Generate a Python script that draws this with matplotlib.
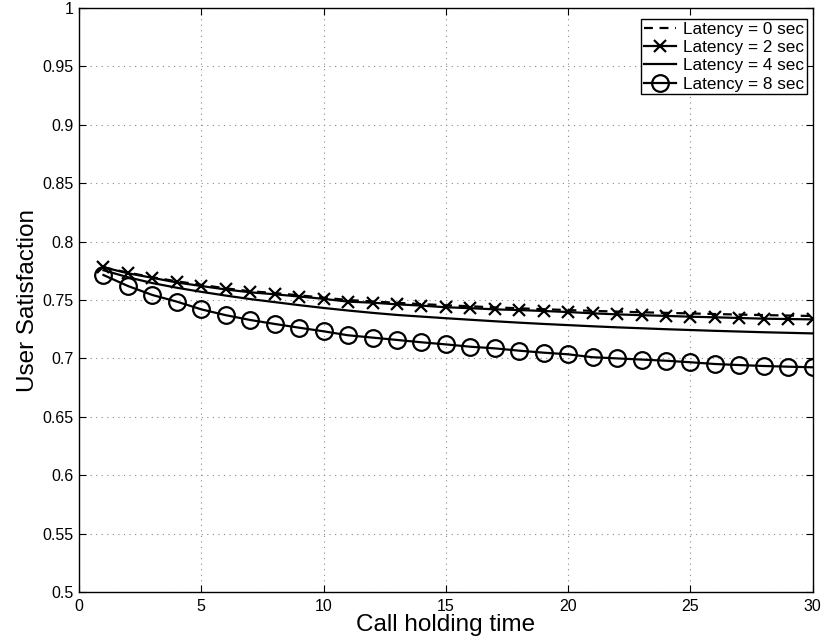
import matplotlib
matplotlib.use("Agg")
import matplotlib.pyplot as plt
from matplotlib.ticker import FuncFormatter

plt.rcParams['font.family'] = ['Liberation Sans', 'DejaVu Sans']

x = list(range(1, 31))
lat0 = [0.778, 0.7735, 0.7695, 0.766, 0.763, 0.760, 0.7575, 0.756, 0.754, 0.752,
        0.750, 0.7488, 0.7476, 0.7465, 0.7455, 0.7446, 0.7437, 0.7429, 0.7421, 0.7414,
        0.7407, 0.7401, 0.7395, 0.739, 0.7385, 0.738, 0.7375, 0.7371, 0.7367, 0.7363]
lat2 = [0.778, 0.7729, 0.769, 0.765, 0.762, 0.759, 0.7566, 0.7549, 0.753, 0.751,
        0.7486, 0.7477, 0.7463, 0.7452, 0.7438, 0.743, 0.742, 0.7414, 0.7406, 0.7397,
        0.7386, 0.7377, 0.737, 0.7364, 0.7357, 0.7352, 0.7346, 0.734, 0.7337, 0.7334]
lat4 = [0.7755, 0.7695, 0.7645, 0.7605, 0.757, 0.7538, 0.7508, 0.7482, 0.7456, 0.7432,
        0.741, 0.739, 0.7372, 0.7358, 0.7344, 0.7331, 0.7318, 0.7306, 0.7295, 0.7285,
        0.7275, 0.7266, 0.7258, 0.725, 0.7243, 0.7236, 0.723, 0.7224, 0.7219, 0.7214]
lat8 = [0.7714, 0.762, 0.7543, 0.7486, 0.742, 0.737, 0.7329, 0.7295, 0.7263, 0.7232,
        0.7198, 0.7178, 0.7158, 0.7138, 0.712, 0.710, 0.7086, 0.7066, 0.7049, 0.7035,
        0.701, 0.700, 0.699, 0.698, 0.6967, 0.6952, 0.6943, 0.6935, 0.6929, 0.6924]
labels = ['Latency = 0 sec', 'Latency = 2 sec', 'Latency = 4 sec', 'Latency = 8 sec']
xticks = [0, 5, 10, 15, 20, 25, 30]
yticks = [0.5, 0.55, 0.6, 0.65, 0.7, 0.75, 0.8, 0.85, 0.9, 0.95, 1.0]

fig = plt.figure(figsize=(8.21, 6.42), dpi=100)
ax = fig.add_axes([0.0962, 0.0779, 0.8938, 0.9096])

lw = 1.6
ax.plot(x, lat0, color='black', lw=lw, linestyle=(0, (4, 3)), label=labels[0])
ax.plot(x, lat2, color='black', lw=lw, marker='x', markersize=8, markeredgewidth=1.6, label=labels[1])
ax.plot(x, lat4, color='black', lw=lw, label=labels[2])
ax.plot(x, lat8, color='black', lw=lw, marker='o', markersize=12, markerfacecolor='none',
        markeredgewidth=1.6, label=labels[3])

ax.set_xlim(0, 30)
ax.set_ylim(0.5, 1.0)
ax.set_xticks(xticks)
ax.set_yticks(yticks)
ax.yaxis.set_major_formatter(FuncFormatter(lambda v, p: ('%g' % round(v, 2))))
ax.tick_params(direction='in', top=True, right=True, labelsize=11.5, length=5, width=0.8)
ax.tick_params(axis='y', pad=4)
ax.tick_params(axis='x', pad=5)
ax.grid(True, linestyle=(0, (1, 4)), color='#888888', linewidth=0.8)
for s in ax.spines.values():
    s.set_linewidth(1.0)

ax.set_xlabel('Call holding time', fontsize=17.5, labelpad=0)
ax.set_ylabel('User Satisfaction', fontsize=17.5, labelpad=2)

leg = ax.legend(loc='upper right', bbox_to_anchor=(0.9918, 0.9812), fontsize=12.3,
                frameon=True, fancybox=False, framealpha=1,
                edgecolor='black', borderaxespad=0.0, handlelength=1.9,
                borderpad=0.15, labelspacing=0.2, handletextpad=0.4)
leg.get_frame().set_linewidth(1.0)

fig.savefig('out.png', dpi=100)
